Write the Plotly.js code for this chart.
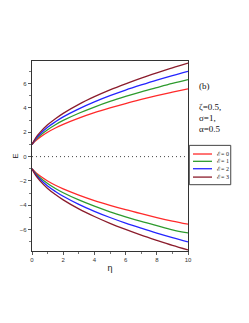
<!DOCTYPE html>
<html>
<head>
<meta charset="utf-8">
<script src="https://cdn.plot.ly/plotly-3.0.1.min.js"></script>
<style>html,body{margin:0;padding:0;background:#fff;}#chart{width:249px;height:323px;}</style>
</head>
<body>
<div id="chart"></div>
<script>
// eta samples
var eta = [0, 0.25, 0.5, 1, 1.5, 2, 3, 4, 5, 6, 7, 8, 9, 10];
// upper branches (E > 0)
var upperEps0 = [1, 1.32, 1.58, 2.00, 2.35, 2.65, 3.16, 3.61, 4.00, 4.36, 4.69, 5.00, 5.29, 5.57];
var upperEps1 = [1, 1.41, 1.72, 2.21, 2.62, 2.97, 3.56, 4.07, 4.53, 4.94, 5.32, 5.67, 6.01, 6.32];
var upperEps2 = [1, 1.48, 1.84, 2.41, 2.86, 3.26, 3.92, 4.49, 5.00, 5.46, 5.88, 6.28, 6.65, 7.00];
var upperEps3 = [1, 1.57, 1.97, 2.61, 3.11, 3.55, 4.29, 4.92, 5.48, 5.98, 6.45, 6.88, 7.29, 7.68];
// lower branches (E < 0)
var lowerEps0 = [-1, -1.32, -1.58, -2.00, -2.35, -2.65, -3.16, -3.61, -4.00, -4.36, -4.69, -5.00, -5.29, -5.55];
var lowerEps1 = [-1, -1.41, -1.72, -2.21, -2.62, -2.97, -3.56, -4.07, -4.53, -4.94, -5.32, -5.67, -6.01, -6.27];
var lowerEps2 = [-1, -1.48, -1.84, -2.41, -2.86, -3.26, -3.92, -4.49, -5.00, -5.46, -5.88, -6.28, -6.65, -7.00];
var lowerEps3 = [-1, -1.57, -1.97, -2.61, -3.11, -3.55, -4.29, -4.92, -5.48, -5.98, -6.45, -6.88, -7.29, -7.66];

var legendLabels = ["ℰ= 0", "ℰ= 1", "ℰ= 2", "ℰ= 3"];
var colors = ["#ff2a2a", "#2e9b2e", "#2424ff", "#8b1c2c"];
var uppers = [upperEps0, upperEps1, upperEps2, upperEps3];
var lowers = [lowerEps0, lowerEps1, lowerEps2, lowerEps3];
var paramLines = ["(b)", "ζ=0.5,", "σ=1,", "α=0.5"];

var traces = [];
for (var i = 0; i < 4; i++) {
  traces.push({x: eta, y: uppers[i], mode: "lines", line: {color: colors[i], width: 1.3, shape: "spline"}, showlegend: false, hoverinfo: "skip"});
  traces.push({x: eta, y: lowers[i], mode: "lines", line: {color: colors[i], width: 1.3, shape: "spline"}, showlegend: false, hoverinfo: "skip"});
}

var shapes = [
  {type: "line", xref: "paper", yref: "y", x0: 0, x1: 1, y0: 0, y1: 0, line: {color: "#444", width: 1, dash: "1px,3px"}},
  {type: "rect", xref: "paper", yref: "paper", x0: 1.0083, x1: 1.274, y0: 0.349, y1: 0.556, line: {color: "#444", width: 1}, fillcolor: "rgba(0,0,0,0)"}
];
var annotations = [];
var legY = [0.5105, 0.472, 0.433, 0.389];
for (var k = 0; k < 4; k++) {
  shapes.push({type: "line", xref: "paper", yref: "paper", x0: 1.032, x1: 1.154, y0: legY[k], y1: legY[k], line: {color: colors[k], width: 1.3}});
  annotations.push({xref: "paper", yref: "paper", x: 1.172, y: legY[k], xanchor: "left", yanchor: "middle", text: legendLabels[k], showarrow: false, font: {family: "Liberation Serif", size: 6, color: "#222"}});
}
var parY = [0.870, 0.759, 0.698, 0.641];
for (var p = 0; p < paramLines.length; p++) {
  annotations.push({xref: "paper", yref: "paper", x: 1.058, y: parY[p], xanchor: "left", yanchor: "middle", text: paramLines[p], showarrow: false, font: {family: "Liberation Serif", size: 9, color: "#111"}});
}

var layout = {
  width: 249, height: 323,
  margin: {l: 32, r: 61, t: 61, b: 72},
  paper_bgcolor: "#fff", plot_bgcolor: "#fff",
  showlegend: false,
  font: {family: "Liberation Sans", size: 6, color: "#333"},
  xaxis: {
    range: [0, 10], tickvals: [0, 2, 4, 6, 8, 10], ticks: "outside", ticklen: 3, tickcolor: "#555",
    showline: true, mirror: true, linecolor: "#333", linewidth: 1.2, showgrid: false, zeroline: false,
    minor: {dtick: 1, ticks: "outside", ticklen: 2, tickcolor: "#777"},
    tickfont: {size: 6, color: "#333"},
    title: {text: "η", font: {size: 9, color: "#222"}, standoff: 2}
  },
  yaxis: {
    range: [-7.75, 7.85], tickvals: [-6, -4, -2, 0, 2, 4, 6], ticks: "outside", ticklen: 3, tickcolor: "#555",
    showline: true, mirror: true, linecolor: "#333", linewidth: 1.2, showgrid: false, zeroline: false,
    minor: {dtick: 1, ticks: "outside", ticklen: 2, tickcolor: "#777"},
    tickfont: {size: 6, color: "#333"},
    title: {text: "E", font: {size: 8, color: "#222"}, standoff: 0}
  },
  shapes: shapes,
  annotations: annotations
};

Plotly.newPlot("chart", traces, layout, {staticPlot: true, displayModeBar: false});
</script>
</body>
</html>
